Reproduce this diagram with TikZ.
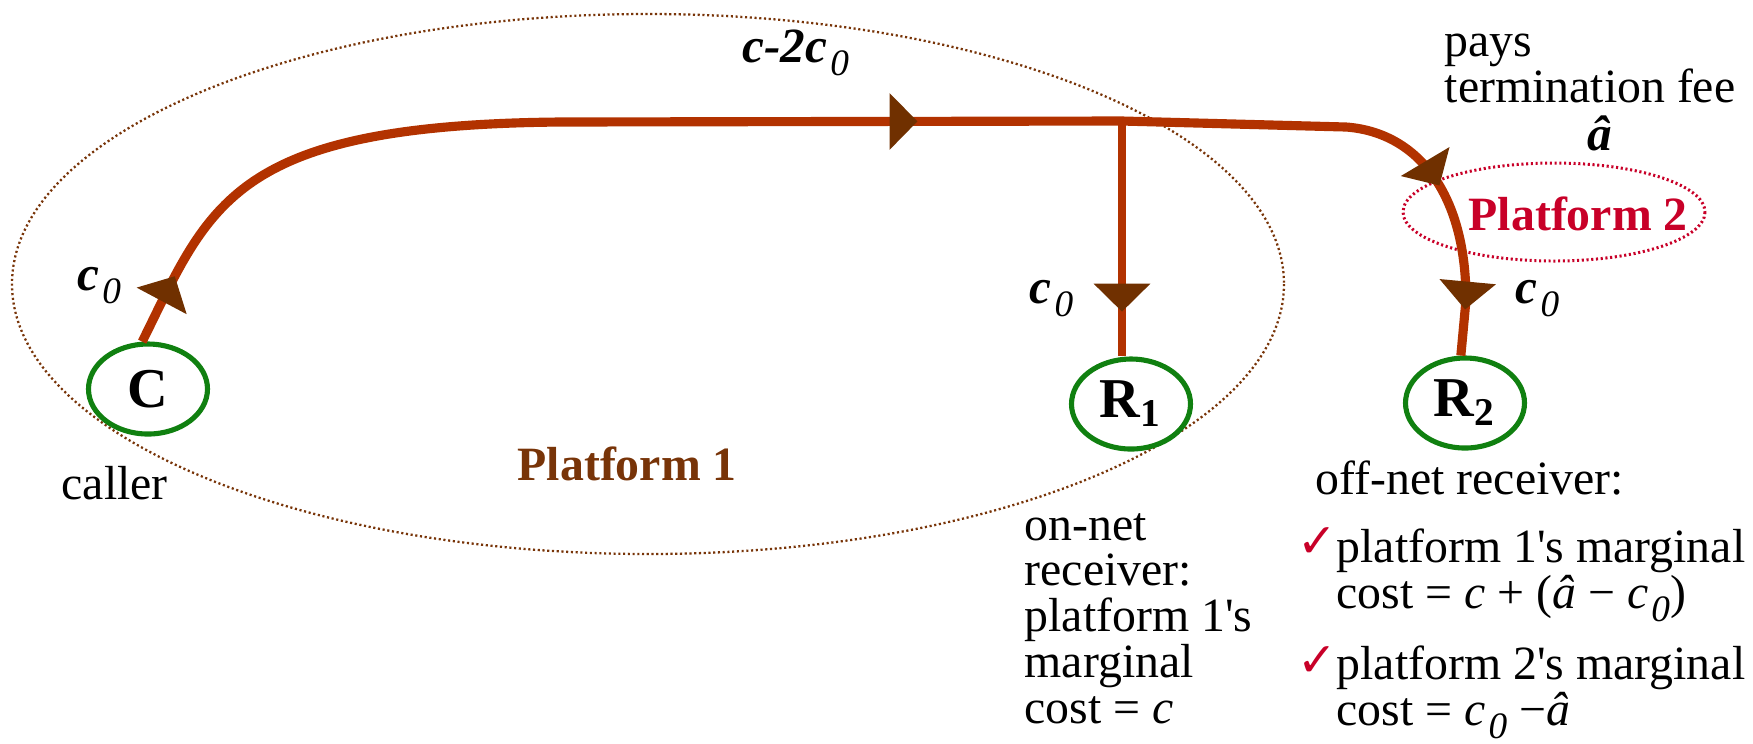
\documentclass[tikz,border=0pt]{standalone}
\usepackage{fontspec}
\setmainfont{Liberation Serif}
\newfontfamily\symfont{DejaVu Sans}
\usetikzlibrary{arrows.meta,positioning,calc,shapes.geometric,decorations.markings}

\definecolor{flow}{RGB}{178,50,0}
\definecolor{tipbrown}{RGB}{112,48,0}
\definecolor{platbrown}{RGB}{120,52,8}
\definecolor{platred}{RGB}{200,0,40}
\definecolor{usergreen}{RGB}{16,128,16}

\newcommand\lbl{\fontsize{13.6}{13}\selectfont}
\newcommand\userfont{\fontsize{16}{16}\selectfont\bfseries}
\newcommand\zsub{\kern0.06em\raisebox{-0.28em}{\fontsize{10.6}{10}\selectfont\mdseries\itshape 0}}
\newcommand\flowtip{\arrow{Triangle[width=5.5mm,length=2.8mm,color=tipbrown]}}

\begin{document}
\begin{tikzpicture}[x=0.1mm,y=-0.1mm,>=Latex, every node/.style={inner sep=0pt,font=\lbl},
  user/.style={draw=usergreen,line width=1.45pt,ellipse,minimum width=11.9mm,minimum height=9mm,font=\userfont},
  lab/.style={anchor=base west},
  costlab/.style={anchor=base west,font=\fontsize{14}{14}\selectfont\bfseries\itshape},
  tick/.style={anchor=base west,font=\fontsize{13.5}{13}\selectfont\symfont,text=platred},
  platline/.style={draw=#1,line width=0.65pt,dash pattern=on 0.6pt off 0.75pt},
  call/.style={draw=flow,line width=2.6pt,postaction=decorate}]
\useasboundingbox (0,0) rectangle (1753,743);
% platforms
\draw[platline=platbrown] (648,284) ellipse [x radius=636, y radius=270];
\draw[platline=platred,line width=0.85pt] (1554,212) ellipse [x radius=151, y radius=49];
\node (p1) [lab,font=\lbl\bfseries,text=platbrown] at (517,480) {Platform 1};
\node (p2) [lab,font=\lbl\bfseries,text=platred] at (1468,230) {Platform 2};
% users
\node (C) [user] at (148,389) {C};
\node (R1) [user] at (1131,404) {R\textsubscript{1}};
\node (R2) [user] at (1465,403) {R\textsubscript{2}};
\coordinate (jn) at (1122,121);
% call flow
\draw[call,decoration={markings,mark=at position 0.068 with {\flowtip},mark=at position 0.81 with {\flowtip}}]
  (C.97) .. controls (210,205) and (230,125) .. (560,122) -- (jn);
\draw[call,decoration={markings,mark=at position 0.66 with {\flowtip},mark=at position 0.91 with {\flowtip}}]
  (jn) -- (1346,127) .. controls (1415,132) and (1466,190) .. (1466,300) -- (R2.95);
\draw[call,line width=2.1pt,decoration={markings,mark=at position 0.81 with {\flowtip}}]
  (jn) -- (jn |- R1.north);
% costs
\node (cc) [costlab] at (742,62) {c-2c\zsub};
\node (c0a) [costlab] at (77,290) {c\zsub};
\node (c0b) [costlab] at (1029,303) {c\zsub};
\node (c0c) [costlab] at (1515,303) {c\zsub};
\node (fee) [lab,align=left] at (1444,102) {pays\\termination fee};
\node (ahat) [costlab] at (1587,150) {â};
% receivers
\node (caller) [lab] at (61,499) {caller};
\node (onnet) [lab,align=left] at (1024,723) {on-net\\receiver:\\platform 1\textquotesingle s\\marginal\\cost = \textit{c}};
\node (offnet) [lab] at (1315,494) {off-net receiver:};
\node (ck1) [tick] at (1297,557) {✓};
\node (m1) [lab,align=left] at (1336,608) {platform 1\textquotesingle s marginal\\cost = \textit{c} + (\textit{â} − \textit{c}\zsub)};
\node (ck2) [tick] at (1297,676) {✓};
\node (m2) [lab,align=left] at (1336,725) {platform 2\textquotesingle s marginal\\cost = \textit{c}\zsub{} −\textit{â}};
\end{tikzpicture}
\end{document}
